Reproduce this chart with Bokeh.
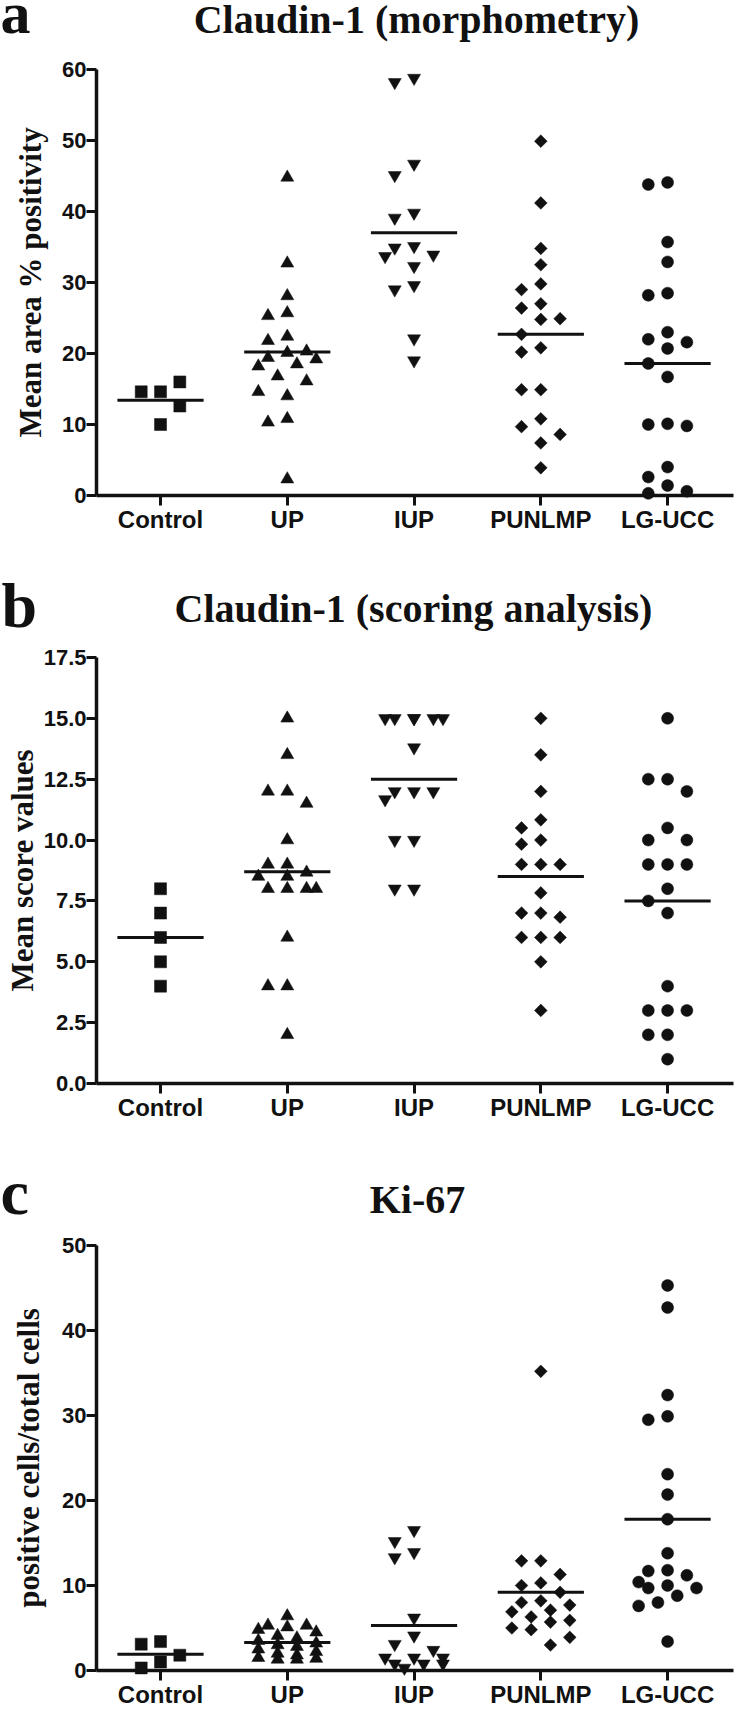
import numpy as np
from bokeh.plotting import figure
from bokeh.models import FixedTicker, NumeralTickFormatter, Range1d
from bokeh.core.properties import value
from bokeh.layouts import column
from bokeh.embed import file_html
from bokeh.resources import INLINE

# ---------------- data ----------------
groups = ["Control", "UP", "IUP", "PUNLMP", "LG-UCC"]

# Panel a: Claudin-1 morphometry (mean area % positivity)
a_control = [14.6, 14.6, 16.0, 12.6, 10.0]
a_up = [44.8, 32.7, 28.1, 25.7, 25.3, 22.4, 21.8, 20.3, 20.1, 19.4, 19.2, 18.5, 18.2,
        16.8, 16.1, 14.6, 14.0, 10.8, 10.3, 2.3]
a_iup = [58.8, 58.2, 46.7, 45.1, 39.8, 39.1, 35.1, 34.9, 33.9, 33.7, 32.3, 29.6, 29.0,
         22.1, 19.0]
a_punlmp = [49.9, 41.2, 34.8, 32.5, 29.8, 29.0, 27.0, 26.4, 24.9, 24.8, 22.7, 20.8,
            20.2, 14.9, 14.9, 10.8, 9.7, 8.6, 7.4, 3.9]
a_lgucc = [44.1, 43.8, 35.7, 32.9, 28.5, 28.2, 23.0, 22.0, 21.6, 20.7, 18.6, 16.7,
           10.1, 10.0, 9.8, 4.0, 2.6, 1.4, 0.6, 0.3]
a_means = [13.4, 20.2, 37.0, 22.7, 18.6]

# Panel b: Claudin-1 scoring analysis (mean score values)
b_control = [8.0, 7.0, 6.0, 5.0, 4.0]
b_up = [15.0, 13.5, 12.0, 12.0, 11.5, 10.0, 9.0, 9.0, 8.67, 8.5, 8.5, 8.0, 8.0, 8.0,
        8.0, 6.0, 4.0, 4.0, 2.0]
b_iup = [15.0, 15.0, 15.0, 15.0, 15.0, 15.0, 13.8, 12.0, 12.0, 12.0, 11.67, 10.0,
         10.0, 8.0, 8.0]
b_punlmp = [15.0, 13.5, 12.0, 10.83, 10.5, 10.0, 9.83, 9.0, 9.0, 9.0, 7.83, 7.0, 7.0,
            6.83, 6.0, 6.0, 6.0, 5.0, 3.0]
b_lgucc = [15.0, 12.5, 12.5, 12.0, 10.5, 10.0, 10.0, 9.0, 9.0, 9.0, 8.0, 7.5, 7.0,
           4.0, 3.0, 3.0, 3.0, 2.0, 2.0, 1.0]
b_means = [6.0, 8.7, 12.5, 8.5, 7.5]

# Panel c: Ki-67 (positive cells / total cells)
c_control = [3.4, 3.1, 1.8, 1.0, 0.3]
c_up = [6.4, 5.3, 5.3, 5.1, 4.8, 4.5, 4.1, 3.8, 3.5, 3.2, 3.0, 2.8, 2.5, 2.2, 2.0,
        1.8, 1.5, 1.4, 1.3, 1.3]
c_iup = [16.5, 15.2, 13.9, 13.3, 6.2, 4.1, 3.1, 2.4, 1.5, 1.5, 1.5, 0.8, 0.8, 0.8, 0.3]
c_punlmp = [35.2, 12.9, 12.9, 11.3, 10.3, 10.0, 9.2, 8.2, 8.0, 7.7, 7.1, 6.9, 6.3,
            5.9, 5.7, 5.0, 4.8, 3.9, 3.0]
c_lgucc = [45.3, 42.7, 32.4, 29.9, 29.5, 23.1, 20.7, 17.8, 13.8, 11.8, 11.7, 11.2,
           10.4, 10.0, 9.7, 9.7, 8.8, 8.0, 7.6, 3.4]
c_means = [1.9, 3.3, 5.3, 9.2, 17.8]

# ---------------- layout / style ----------------
W = 734
AX_LEFT, AX_RIGHT = 96, 733          # pixel span of the x axis inside each figure
X0, X1 = 0.495, 5.52                 # data span of the x axis
SLOT_PX = 19.3
SERIF = "Liberation Serif"
SANS = "Liberation Sans"
INK = "#111111"
BASELINE_FIX = 0.24                  # text glyph baseline correction (em)

marker_style = [
    dict(marker="square", size=12, angle=0.0),
    dict(marker="triangle", size=13, angle=0.0),
    dict(marker="inverted_triangle", size=13, angle=0.0),
    dict(marker="square", size=9, angle=np.pi / 4),
    dict(marker="circle", size=12, angle=0.0),
]

# top = pixel row of the y-axis maximum, base = pixel row of y = 0
panels = [
    dict(letter="a", letter_size=60, title="Claudin-1 (morphometry)",
         ylabel="Mean area % positivity", ylabel_standoff=11,
         letter_xy=(0, 27), title_xy=(416, 29),
         H=532, top=69, base=495, ymax=60,
         ticks=[0, 10, 20, 30, 40, 50, 60], fmt=None,
         data=[a_control, a_up, a_iup, a_punlmp, a_lgucc], means=a_means),
    dict(letter="b", letter_size=64, title="Claudin-1 (scoring analysis)",
         ylabel="Mean score values", ylabel_standoff=1,
         letter_xy=(1, 88), title_xy=(413, 86),
         H=588, top=125, base=551, ymax=17.5,
         ticks=[0, 2.5, 5, 7.5, 10, 12.5, 15, 17.5], fmt="0.0",
         data=[b_control, b_up, b_iup, b_punlmp, b_lgucc], means=b_means),
    dict(letter="c", letter_size=64, title="Ki-67",
         ylabel="positive cells/total cells", ylabel_standoff=13,
         letter_xy=(0, 87), title_xy=(417, 89),
         H=587, top=125, base=550, ymax=50,
         ticks=[0, 10, 20, 30, 40, 50], fmt=None,
         data=[c_control, c_up, c_iup, c_punlmp, c_lgucc], means=c_means),
]


def swarm(values, ppy, wy=16.0):
    """Column-scatter layout: returns horizontal offsets in slot units."""
    cands = [0, -1, 1, -0.5, 0.5, -1.5, 1.5]
    placed, offs = [], []
    for v in values:
        y = v * ppy
        best, best_cost = 0, None
        for c in cands:
            cost = 0.0
            for pc, py in placed:
                dx = abs(c - pc)
                dy = abs(y - py)
                if dx < 1 and dy < wy:
                    cost += (1 - dx) * (1 - dy / wy)
            if cost == 0:
                best, best_cost = c, 0
                break
            if best_cost is None or cost < best_cost - 1e-9:
                best, best_cost = c, cost
        placed.append((best, y))
        offs.append(best)
    return offs


def panel(pn):
    H, top, base, ymax = pn["H"], pn["top"], pn["base"], pn["ymax"]
    ppx = (AX_RIGHT - AX_LEFT) / (X1 - X0)
    ppy = (base - top) / ymax
    x_start = X0 - AX_LEFT / ppx
    x_end = X1 + (W - AX_RIGHT) / ppx
    y_end = ymax + top / ppy
    y_start = -(H - base) / ppy

    def fx(px):
        return x_start + px / ppx

    def fy(py):
        return y_end - py / ppy

    p = figure(width=W, height=H, x_range=Range1d(x_start, x_end),
               y_range=Range1d(y_start, y_end), output_backend="svg",
               toolbar_location=None, min_border=0)
    p.outline_line_color = None
    p.xgrid.visible = False
    p.ygrid.visible = False
    p.background_fill_color = "white"
    p.border_fill_color = "white"

    for ax in (p.xaxis[0], p.yaxis[0]):
        ax.axis_line_width = 3.5
        ax.axis_line_color = INK
        ax.major_tick_line_width = 3
        ax.major_tick_line_color = INK
        ax.major_tick_out = 10
        ax.major_tick_in = 0
        ax.minor_tick_line_color = None
        ax.major_label_text_font = SANS
        ax.major_label_text_font_style = "bold"
        ax.major_label_text_color = INK
        ax.major_label_standoff = 0

    p.xaxis.fixed_location = 0
    p.xaxis.bounds = (X0, X1)
    p.xaxis.ticker = FixedTicker(ticks=[1, 2, 3, 4, 5])
    p.xaxis.major_label_overrides = {i + 1: g for i, g in enumerate(groups)}
    p.xaxis.major_label_text_font_size = "24px"

    p.yaxis.fixed_location = X0
    p.yaxis.bounds = (0, ymax)
    p.yaxis.ticker = FixedTicker(ticks=pn["ticks"])
    p.yaxis.major_label_text_font_size = "22px"
    if pn["fmt"]:
        p.yaxis.formatter = NumeralTickFormatter(format=pn["fmt"])
    p.yaxis.axis_label = pn["ylabel"]
    p.yaxis.axis_label_text_font = SERIF
    p.yaxis.axis_label_text_font_size = "31px"
    p.yaxis.axis_label_text_font_style = "bold"
    p.yaxis.axis_label_text_color = INK
    p.yaxis.axis_label_standoff = pn["ylabel_standoff"]

    slot = SLOT_PX / ppx
    for gi, (vals, st) in enumerate(zip(pn["data"], marker_style)):
        offs = swarm(vals, ppy)
        xs = [gi + 1 + o * slot for o in offs]
        p.scatter(x=xs, y=vals, marker=st["marker"], size=st["size"], angle=st["angle"],
                  fill_color=INK, line_color=INK, line_width=0.5)

    half = 0.34
    p.segment(x0=[i + 1 - half for i in range(5)], x1=[i + 1 + half for i in range(5)],
              y0=pn["means"], y1=pn["means"], line_width=3, line_color=INK)

    # panel letter and title (inside the frame, above the data area)
    ls = pn["letter_size"]
    lx, ly = pn["letter_xy"]
    p.text(x=[fx(lx)], y=[fy(ly - BASELINE_FIX * ls)], text=[pn["letter"]],
           text_font=value(SERIF), text_font_size=value(f"{ls}px"),
           text_font_style="bold", text_color=INK, text_align="left",
           text_baseline="alphabetic")
    tx, ty = pn["title_xy"]
    p.text(x=[fx(tx)], y=[fy(ty - BASELINE_FIX * 40)], text=[pn["title"]],
           text_font=value(SERIF), text_font_size=value("40px"), text_font_style="bold",
           text_color=INK, text_align="center", text_baseline="alphabetic")
    return p


figs = [panel(pn) for pn in panels]
layout = column(*figs, spacing=0)
open("out.html", "w").write(file_html(layout, INLINE))
